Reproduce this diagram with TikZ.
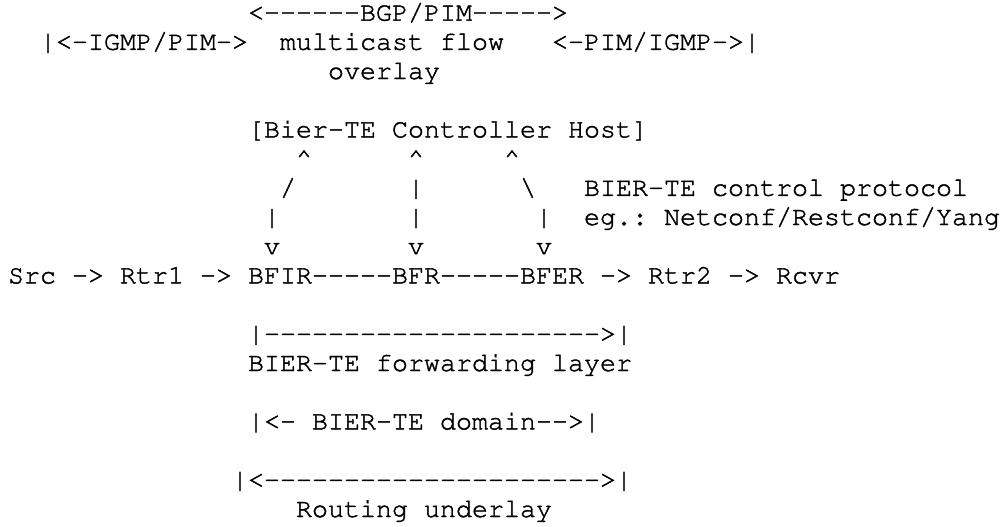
\documentclass[tikz,border=0pt]{standalone}
\usepackage[T1]{fontenc}
\usepackage{tikz}

\begin{document}
\begin{tikzpicture}[
    x=0.75pt, y=-0.75pt,
    mono/.style={anchor=base west, inner sep=0pt, outer sep=0pt,
        font=\fontfamily{pcr}\fontsize{20}{22}\selectfont\frenchspacing}
]

\fill[white] (0,0) rectangle (1002,526);
% a little heavier text, like the screen font
\special{pdf:literal direct 2 Tr 0.3 w}

% Overlay (dashes split with {} so they are not joined)
\node (bgp) [mono] at (248,20.6) {<-{}-{}-{}-{}-{}-BGP/PIM-{}-{}-{}-{}->};
\node (igmpl) [mono] at (40,49.8) {|<-IGMP/PIM->};
\node (flow) [mono] at (280,49.8) {multicast flow};
\node (igmpr) [mono] at (552,49.8) {<-PIM/IGMP->|};
\node (overlay) [mono] at (328,79.0) {overlay};

% Controller
\node (ctrl) [mono] at (248,137.4) {[Bier-TE Controller Host]};
\node (upa) [mono] at (296,166.6) {\textasciicircum};
\node (upb) [mono] at (408,166.6) {\textasciicircum};
\node (upc) [mono] at (504,166.6) {\textasciicircum};
\node (ska) [mono] at (280,195.8) {/};
\node (skb) [mono] at (408,195.8) {|};
\node (skc) [mono] at (520,195.8) {\textbackslash};
\node (proto) [mono] at (584,195.8) {BIER-TE control protocol};
\node (bara) [mono] at (264,225.0) {|};
\node (barb) [mono] at (408,225.0) {|};
\node (barc) [mono] at (536,225.0) {|};
\node (eg) [mono] at (584,225.0) {eg.: Netconf/Restconf/Yang};
\node (dna) [mono] at (264,254.2) {v};
\node (dnb) [mono] at (408,254.2) {v};
\node (dnc) [mono] at (536,254.2) {v};

% Data path
\node (src) [mono] at (8,283.4) {Src};
\node (ar1) [mono] at (72,283.4) {->};
\node (rtr1) [mono] at (120,283.4) {Rtr1};
\node (ar2) [mono] at (200,283.4) {->};
\node (bfir) [mono] at (248,283.4) {BFIR};
\node (ln1) [mono] at (312,283.4) {-{}-{}-{}-{}-};
\node (bfr) [mono] at (392,283.4) {BFR};
\node (ln2) [mono] at (440,283.4) {-{}-{}-{}-{}-};
\node (bfer) [mono] at (520,283.4) {BFER};
\node (ar3) [mono] at (600,283.4) {->};
\node (rtr2) [mono] at (648,283.4) {Rtr2};
\node (ar4) [mono] at (728,283.4) {->};
\node (rcvr) [mono] at (776,283.4) {Rcvr};

% Layers
\node (fwdspan) [mono] at (248,341.8) {|-{}-{}-{}-{}-{}-{}-{}-{}-{}-{}-{}-{}-{}-{}-{}-{}-{}-{}-{}-{}->|};
\node (fwd) [mono] at (248,371.0) {BIER-TE forwarding layer};
\node (dom) [mono] at (248,429.4) {|<- BIER-TE domain-{}->|};
\node (rtspan) [mono] at (232,487.8) {|<-{}-{}-{}-{}-{}-{}-{}-{}-{}-{}-{}-{}-{}-{}-{}-{}-{}-{}-{}-{}->|};
\node (under) [mono] at (296,517.0) {Routing underlay};

\end{tikzpicture}
\end{document}
